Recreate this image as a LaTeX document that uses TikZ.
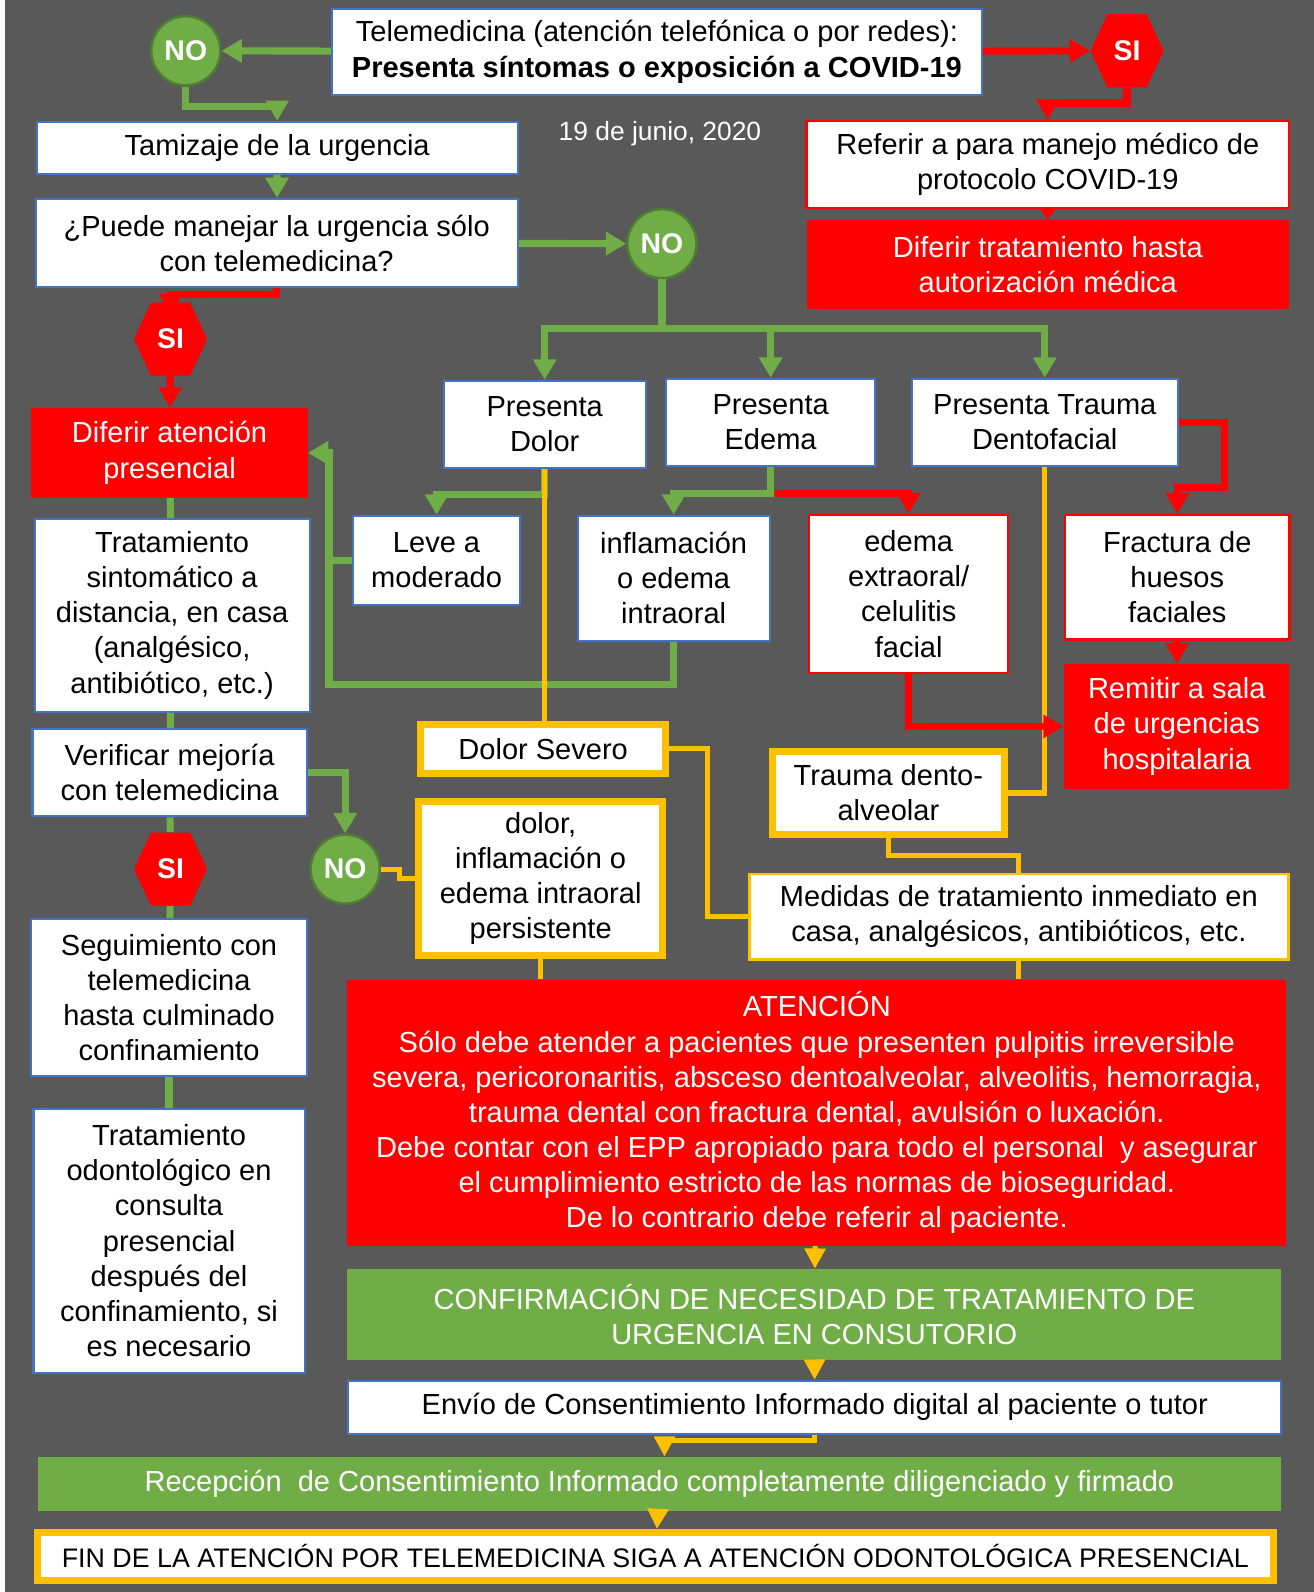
\documentclass[tikz,border=0pt]{standalone}
\usepackage{fontspec}
\setmainfont{Liberation Sans}
\usetikzlibrary{positioning,arrows.meta,calc,shapes.symbols}
\definecolor{slateGray}{HTML}{595959}
\definecolor{boxBlue}{HTML}{4472C4}
\definecolor{okGreen}{HTML}{70AD47}
\definecolor{okGreenLine}{HTML}{507E32}
\definecolor{alertRed}{HTML}{FF0000}
\definecolor{warnYellow}{HTML}{FFC000}
\tikzset{
    sz/.style 2 args={minimum width=#1*0.5pt,minimum height=#2*0.5pt},
    txt/.style={align=center,inner sep=0pt,font=\fontsize{14.3}{17.3}\selectfont},
    card/.style={txt,draw=boxBlue,fill=white,line width=1pt},
    redcard/.style={txt,draw=alertRed,fill=white,line width=1.2pt},
    alertbox/.style={txt,fill=alertRed,text=white},
    goodbox/.style={txt,fill=okGreen,text=white},
    yellowcard/.style={txt,draw=warnYellow,fill=white,line width=3.5pt},
    nocircle/.style={circle,draw=okGreenLine,line width=1.2pt,fill=okGreen,text=white,
        font=\fontsize{14}{17}\selectfont\bfseries,minimum size=34pt,inner sep=0pt},
    sihex/.style={signal,signal to=east and west,signal pointer angle=130,fill=alertRed,
        text=white,font=\fontsize{14}{17}\selectfont\bfseries,
        minimum width=36pt,minimum height=36pt,inner sep=0pt},
    garrow/.style={-{Triangle[width=11pt,length=10pt]},draw=okGreen,line width=3.5pt},
    gline/.style={draw=okGreen,line width=3.5pt},
    rarrow/.style={-{Triangle[width=11pt,length=10pt]},draw=alertRed,line width=3.5pt},
    rsmall/.style={-{Triangle[width=8pt,length=6pt]},draw=alertRed,line width=2pt},
    yline/.style={draw=warnYellow,line width=2.5pt},
    yarrow/.style={-{Triangle[width=10pt,length=10pt]},draw=warnYellow,line width=2.5pt}
}

\begin{document}
\begin{tikzpicture}[x=0.5pt,y=-0.5pt]
    \fill[white] (0,0) rectangle (1294,1568);
    \fill[slateGray] (5,0) rectangle (1294,1568);
    \useasboundingbox (0,0) rectangle (1294,1568);

    \node[card,sz={640}{85}] (consulta) at (647,51)
        {Telemedicina (atención telefónica o por redes):\\\textbf{Presenta síntomas o exposición a COVID-19}};
    \node[nocircle] (noCovid) at (183,50) {NO};
    \node[sihex] (siCovid) at (1110,50) {SI};
    \node[font=\fontsize{13}{15}\selectfont,text=white] (fecha) at (650,132) {19 de junio, 2020};

    \node[card,sz={474}{51}] (tamizaje) at (273,145.5) {Tamizaje de la urgencia};
    \node[card,sz={475}{87}] (manejo) at (272.5,239.5)
        {¿Puede manejar la urgencia sólo\\con telemedicina?};
    \node[nocircle] (noTele) at (652,240) {NO};
    \node[redcard,sz={475}{86}] (referir) at (1032,162)
        {Referir a para manejo médico de\\protocolo COVID-19};
    \node[alertbox,sz={475}{87}] (diferirTrat) at (1032,260.5)
        {Diferir tratamiento hasta\\autorización médica};

    \node[sihex] (siTele) at (168,334) {SI};
    \node[alertbox,sz={272}{88}] (diferirAten) at (167,446) {Diferir atención\\presencial};
    \node[card,sz={271}{190}] (sintomatico) at (169.5,606)
        {Tratamiento\\sintomático a\\distancia, en casa\\(analgésico,\\antibiótico, etc.)};
    \node[card,sz={270}{86}] (verificar) at (167,761) {Verificar mejoría\\con telemedicina};
    \node[sihex] (siMejora) at (168,856) {SI};
    \node[nocircle] (noMejora) at (340,856) {NO};
    \node[card,sz={271}{155}] (seguimiento) at (166.5,982.5)
        {Seguimiento con\\telemedicina\\hasta culminado\\confinamiento};
    \node[card,sz={267}{260}] (odontologico) at (166.5,1222)
        {Tratamiento\\odontológico en\\consulta\\presencial\\después del\\confinamiento, si\\es necesario};

    \node[card,sz={199}{86}] (dolor) at (536.5,418) {Presenta\\Dolor};
    \node[card,sz={206}{86}] (edema) at (759,416) {Presenta\\Edema};
    \node[card,sz={262}{86}] (trauma) at (1029,416) {Presenta Trauma\\Dentofacial};
    \node[card,sz={164}{88}] (leve) at (430,552) {Leve a\\moderado};
    \node[card,sz={189}{123}] (intraoral) at (663.5,569.5) {inflamación\\o edema\\intraoral};
    \node[redcard,sz={196}{156}] (extraoral) at (895,585) {edema\\extraoral/\\celulitis\\facial};
    \node[redcard,sz={221}{123}] (fractura) at (1159.5,568.5) {Fractura de\\huesos\\faciales};
    \node[alertbox,sz={222}{123}] (remitir) at (1159,715.5) {Remitir a sala\\de urgencias\\hospitalaria};
    \node[yellowcard,sz={241}{48}] (severo) at (535,737.5) {Dolor Severo};
    \node[yellowcard,sz={229}{81}] (dentoalveolar) at (875,781) {Trauma dento-\\alveolar};
    \node[yellowcard,sz={240}{152}] (persistente) at (532.5,865.5)
        {dolor,\\inflamación o\\edema intraoral\\persistente};
    \node[txt,draw=warnYellow,line width=1.2pt,fill=white,sz={531}{84}] (medidas) at (1003.5,903)
        {Medidas de tratamiento inmediato en\\casa, analgésicos, antibióticos, etc.};

    \node[alertbox,sz={925}{262}] (atencion) at (804.5,1096)
        {ATENCIÓN\\Sólo debe atender a pacientes que presenten pulpitis irreversible\\
         severa, pericoronaritis, absceso dentoalveolar, alveolitis, hemorragia,\\
         trauma dental con fractura dental, avulsión o luxación.\\
         Debe contar con el EPP apropiado para todo el personal~ y asegurar\\
         el cumplimiento estricto de las normas de bioseguridad.\\
         De lo contrario debe referir al paciente.};
    \node[goodbox,sz={920}{89}] (confirmacion) at (802,1294.5)
        {CONFIRMACIÓN DE NECESIDAD DE TRATAMIENTO DE\\URGENCIA EN CONSUTORIO};
    \node[card,sz={919}{52}] (envio) at (802.5,1386)
        {Envío de Consentimiento Informado digital al paciente o tutor};
    \node[goodbox,sz={1225}{53}] (recepcion) at (649.5,1461.5)
        {Recepción~ de Consentimiento Informado completamente diligenciado y firmado};
    \node[yellowcard,sz={1218}{47},font=\fontsize{13.2}{15}\selectfont] (fin) at (645.5,1533)
        {FIN DE LA ATENCIÓN POR TELEMEDICINA SIGA A ATENCIÓN ODONTOLÓGICA PRESENCIAL};

    \draw[garrow] (consulta) -- (noCovid);
    \draw[garrow] (noCovid.south) -- ++(0,20) -| (tamizaje.north);
    \draw[garrow] (tamizaje) -- (manejo);
    \draw[garrow] (manejo) -- (noTele);
    \draw[garrow] (noTele.south) -- ++(0,48) -| (dolor.north);
    \draw[garrow] (noTele.south) -- ++(0,48) -| (edema.north);
    \draw[garrow] (noTele.south) -- ++(0,48) -| (trauma.north);
    \draw[gline] (diferirAten) -- (sintomatico);
    \draw[gline] (sintomatico) -- (verificar);
    \draw[gline] (verificar) -- (siMejora);
    \draw[gline] (siMejora) -- (seguimiento);
    \draw[gline] (seguimiento) -- (odontologico);
    \draw[garrow] (verificar.east) -| (noMejora.north);
    \draw[garrow] (dolor.south) -- ++(0,25) -| (leve.north);
    \draw[garrow] (edema.south) -- ++(0,26) -| (intraoral.north);
    \coordinate (retorno) at ($(leve.west)+(-23,0)$);
    \draw[garrow] (leve.west) -- (retorno) |- (diferirAten.east);
    \draw[gline] (intraoral.south) -- ++(0,42) -| (retorno);

    \draw[yline] (dolor.south) -- (dolor.south |- severo.north);
    \draw[yline] (trauma.south) |- (dentoalveolar.east);
    \draw[yline] (dentoalveolar.south) -- ++(0,18) -| (medidas.north);
    \draw[yline] (severo.east) -- ++(38,0) |- (medidas.west);
    \draw[yline] (noMejora.east) -- ++(18,0) |- (persistente.west);
    \draw[yline] (persistente.south) -- (persistente.south |- atencion.north);
    \draw[yline] (medidas.south) -- (medidas.south |- atencion.north);
    \draw[yarrow] (atencion) -- (confirmacion);
    \draw[yarrow] (confirmacion) -- (envio);
    \draw[yarrow] (envio.south) -- ++(0,6) -| ($(recepcion.north)+(5,0)$);
    \draw[yarrow] (recepcion) -- (fin);

    \draw[rarrow] (consulta) -- (siCovid);
    \draw[rarrow] (siCovid.south) -- ++(0,15) -| (referir.north);
    \draw[rsmall] (referir) -- (diferirTrat);
    \draw[rarrow] (manejo.south) -- ++(0,6) -| ($(siTele.north)+(0,12)$);
    \draw[rarrow] (siTele) -- (diferirAten);
    \draw[rarrow] ($(edema.south)+(4,26)$) -| (extraoral.north);
    \draw[rarrow] (extraoral.south) |- (remitir.west);
    \draw[rarrow] (trauma.east) -- ++(45,0) -- ++(0,64) -| (fractura.north);
    \draw[rarrow] (fractura) -- (remitir);
\end{tikzpicture}
\end{document}
